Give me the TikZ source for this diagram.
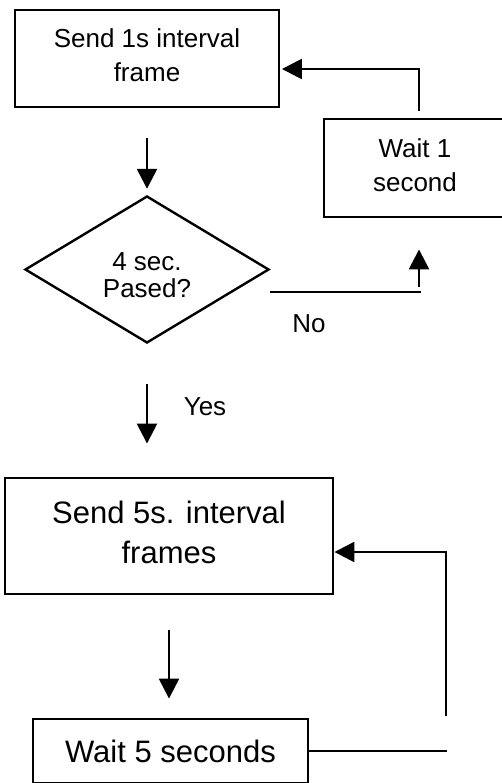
\documentclass[tikz,border=0pt]{standalone}
\usepackage{fontspec}
\setmainfont{Liberation Sans}
\usetikzlibrary{arrows.meta,shapes.geometric}
\begin{document}
\begin{tikzpicture}[x=1pt,y=-1pt,
  box/.style={draw, line width=2.9pt, inner sep=0pt, align=center},
  smallfont/.style={font=\fontsize{26}{34}\selectfont},
  bigfont/.style={font=\fontsize{31}{40}\selectfont},
  conn/.style={line width=2.6pt},
  arr/.style={conn, -{Triangle[length=20pt,width=20pt]}},
]
\useasboundingbox (0,0) rectangle (502,783);
\clip (0,0) rectangle (502,783);

% nodes
\node[box, smallfont, text depth=6pt, minimum width=264pt, minimum height=97pt] (top) at (147,58.5) {Send 1s interval\\frame};
\node[box, smallfont, text depth=6pt, minimum width=182pt, minimum height=98pt] (wait1) at (415,168) {Wait 1\\second};
\node[draw, diamond, line width=2.4pt, minimum width=244pt, minimum height=147pt, aspect=1.66,
      inner sep=0pt, align=center, text height=56pt, text depth=0pt,
      font=\fontsize{26}{27}\selectfont] (dia) at (147,269.5) {4 sec.\\Pased?};
\node[smallfont, inner sep=0pt] (no) at (309,324) {No};
\node[smallfont, inner sep=0pt] (yes) at (205,407) {Yes};
\node[box, bigfont, text depth=8pt, minimum width=328pt, minimum height=116pt] (box5) at (169,536) {Send 5s. interval\\frames};
\node[box, bigfont, minimum width=275pt, minimum height=64pt] (wait5) at (170.5,751) {Wait 5 seconds};

% free ends
\coordinate (nocorner) at (421,292);
\coordinate (nobot) at (419,287);
\coordinate (loopend) at (447,751);
\coordinate (loopbot) at (446,716);

% connectors
\draw[arr, shorten <=30pt, shorten >=6pt] (top.south) -- (top.south |- dia.north);
\draw[conn] ([yshift=-22.5pt]dia.east) -- (nocorner);
\draw[arr, shorten >=31pt] (nobot) -- (nobot |- wait1.south);
\draw[arr, shorten >=1.5pt] ([xshift=4pt,yshift=7pt]wait1.north) |- ([yshift=-10.5pt]top.east);
\draw[arr, shorten <=40pt, shorten >=33pt] (dia.south) -- (dia.south |- box5.north);
\draw[arr, shorten <=35pt, shorten >=19pt] (box5.south) -- (box5.south |- wait5.north);
\draw[conn] (wait5.east) -- (loopend);
\draw[arr] (loopbot) |- ([yshift=-16pt]box5.east);
\end{tikzpicture}
\end{document}
